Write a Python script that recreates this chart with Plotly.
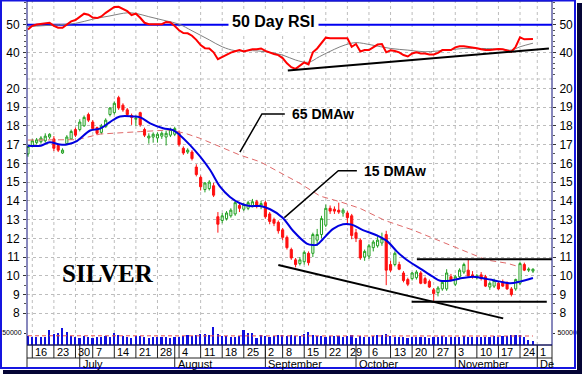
import plotly.graph_objects as go

# ---------------- data ----------------
opens = [16.50,16.95,17.10,17.15,17.20,17.40,17.30,16.95,16.55,17.05,17.30,17.80,17.80,18.00,18.60,18.20,17.90,17.65,17.95,18.60,
         18.70,19.50,19.10,18.85,18.55,18.35,18.70,17.80,17.35,17.40,17.35,17.45,17.40,17.50,17.55,17.60,16.80,16.60,16.60,15.80,
         15.25,14.60,14.65,14.80,13.15,12.95,13.05,13.20,13.30,13.75,13.55,13.60,13.75,13.95,13.70,13.90,13.30,13.00,12.85,12.45,
         12.05,11.40,10.85,10.65,10.75,11.20,11.20,11.90,12.20,12.70,13.60,13.55,13.50,13.35,13.35,13.20,12.30,11.90,11.00,11.05,
         11.50,11.60,11.75,12.20,10.60,10.60,10.60,10.15,9.80,9.85,9.90,10.15,9.85,9.70,9.25,9.10,9.30,9.30,9.95,9.55,
         9.95,10.20,10.30,10.05,9.90,10.05,9.95,9.40,9.45,9.60,9.65,9.60,9.30,9.30,9.60,10.60,10.30,10.25]
highs = [16.95,17.30,17.35,17.45,17.60,17.60,17.45,17.05,16.80,17.50,17.80,17.90,18.35,18.55,18.70,18.30,17.95,18.10,18.40,19.00,
         19.30,19.60,19.20,18.95,18.65,18.55,18.75,17.90,17.60,17.65,17.65,17.70,17.75,17.90,17.95,17.75,16.90,16.80,16.70,15.95,
         15.35,15.00,15.10,14.95,13.40,13.35,13.45,13.60,14.00,13.90,13.90,14.00,14.10,14.05,14.00,14.00,13.40,13.10,12.95,12.55,
         12.15,11.50,10.95,11.00,11.35,11.30,12.30,12.50,13.20,13.80,13.75,13.70,13.90,13.60,13.45,13.30,12.50,12.00,11.40,11.70,
         11.90,12.10,12.30,12.40,10.80,11.30,10.75,10.25,9.90,10.20,10.30,10.25,9.95,9.80,9.35,9.45,9.75,10.35,10.10,10.05,
         10.40,10.70,10.90,10.25,10.10,10.20,10.05,9.70,9.85,9.70,9.80,9.70,9.40,9.85,10.75,10.70,10.45,10.40]
lows = [16.35,16.85,17.00,17.05,17.10,17.30,16.65,16.60,16.50,17.00,17.25,17.40,17.70,17.95,18.20,17.75,17.50,17.55,17.90,18.50,
        18.60,18.85,18.75,18.50,18.05,18.00,17.95,17.40,17.05,17.10,17.10,17.30,16.95,17.40,17.45,16.90,16.45,16.50,16.15,15.30,
        14.55,14.45,14.55,14.20,12.30,12.80,12.95,13.10,13.20,13.40,13.45,13.50,13.65,13.60,13.55,13.05,12.75,12.65,12.25,11.90,
        11.40,10.85,10.45,10.55,10.60,10.55,11.00,11.60,12.00,12.60,13.30,13.30,13.30,13.15,12.70,11.95,11.80,10.85,10.80,10.90,
        11.30,11.50,11.60,9.50,10.20,10.50,10.30,9.65,9.45,9.75,9.80,9.55,9.55,9.35,8.60,8.90,9.20,9.20,9.70,9.45,
        9.85,10.10,9.95,9.85,9.80,9.75,9.40,9.25,9.35,9.25,9.40,9.25,8.90,9.20,9.50,10.25,10.20,10.15]
closes = [16.90,17.20,17.25,17.35,17.45,17.55,16.80,16.70,16.70,17.40,17.70,17.50,18.20,18.45,18.30,17.85,17.60,18.00,18.30,18.95,
          19.20,18.95,18.85,18.60,18.45,18.40,18.05,17.50,17.45,17.55,17.55,17.60,17.60,17.80,17.85,17.00,16.55,16.70,16.25,15.40,
          14.75,14.95,15.00,14.30,12.75,13.20,13.35,13.50,13.90,13.60,13.80,13.90,13.95,13.75,13.85,13.15,12.90,12.80,12.40,12.05,
          11.50,10.95,10.60,10.85,11.25,10.70,12.20,12.20,13.05,13.60,13.45,13.45,13.40,13.50,13.10,12.15,12.00,10.95,11.30,11.60,
          11.80,11.90,12.00,10.30,10.30,11.20,10.35,9.75,9.55,10.15,10.20,9.60,9.60,9.40,9.05,9.35,9.65,10.15,9.75,9.95,
          10.30,10.60,10.00,9.95,10.00,9.85,9.45,9.60,9.75,9.30,9.45,9.30,9.00,9.80,10.65,10.30,10.35,10.35]
volume = [36000,34000,33000,34000,35000,62000,47000,48000,69000,55000,
          38000,34000,31000,37000,34000,30000,32000,34000,36000,35000,
          52000,42000,37000,34000,30000,36000,37000,33000,30000,33000,
          35000,33000,34000,30000,35000,34000,38000,40000,36000,41000,
          47000,46000,42000,73000,45000,39000,36000,35000,34000,37000,
          62000,48000,50000,31000,42000,39000,35000,37000,41000,40000,
          38000,42000,36000,37000,47000,55000,41000,38000,36000,34000,
          38000,36000,37000,35000,38000,42000,31000,38000,33000,35000,
          36000,42000,41000,45000,36000,35000,32000,34000,31000,32000,
          33000,35000,32000,31000,34000,32000,36000,33000,34000,35000,
          33000,36000,32000,34000,33000,35000,34000,33000,36000,35000,
          37000,36000,40000,43000,41000,33000,22000,18000]
days = list(range(len(closes)))  # trading-day index, 13 Jun 2008 .. 28 Nov 2008

rsi = [48.3,49.6,50.1,50.3,50.7,50.7,49.6,48.9,48.9,49.9,51.2,51.7,53.0,54.0,53.6,52.6,52.4,53.0,54.3,55.5,
       56.4,56.5,55.8,54.9,53.5,54.0,52.5,50.7,50.2,50.2,50.2,50.2,51.0,50.8,49.5,48.0,47.0,46.9,46.0,44.5,
       42.6,41.5,41.4,40.0,37.5,38.4,39.3,39.9,40.4,40.8,40.3,40.7,41.1,41.1,41.4,40.5,39.9,39.4,39.0,37.9,
       36.0,34.6,34.0,35.2,36.3,35.6,40.0,41.4,43.3,45.3,45.1,45.1,45.1,45.1,45.1,42.0,43.0,40.3,40.8,40.8,
       41.8,42.8,43.0,40.0,40.7,40.5,40.0,39.0,38.5,39.6,40.0,39.6,39.6,39.2,39.2,39.8,40.8,40.8,40.8,41.8,
       42.2,42.2,42.0,41.8,41.5,41.1,40.8,40.8,41.0,41.2,41.1,40.7,40.2,42.0,45.4,44.7,44.7,44.8]
rsi_ma_x = [0, 6, 11, 15, 19, 23, 25, 28, 32, 35, 38, 42, 45, 48, 52, 55, 59, 62, 65, 67.5, 71, 73.5, 76, 79.5, 84,
            88, 92, 97, 101, 105, 110, 112, 114, 117]
rsi_ma = [49.3, 49.9, 50.5, 52.0, 53.2, 54.3, 54.1, 52.9, 51.4, 50.2, 47.8, 44.5, 42.0, 40.6, 40.6, 40.2, 39.0, 37.2,
          36.4, 38.4, 41.1, 42.7, 43.5, 42.7, 41.4, 40.8, 40.2, 40.8, 41.4, 41.4, 41.1, 40.8, 42.0, 43.3]

ma15_x = [0, 3, 5, 7.4, 9, 11.4, 14.4, 16.7, 19, 21.3, 24.3, 26, 28.3, 31.3, 33.6, 35.2, 37.5, 39.9, 42.2, 44.5,
          46.8, 49.1, 51.4, 53.8, 56.1, 59, 61.4, 64.6, 66, 67, 68.3, 70.7, 73, 75, 77.6, 80.9, 83.2, 85.5, 87.8,
          90.8, 93.8, 95.5, 97.8, 100.1, 103.1, 104.7, 107, 109.4, 111.7, 114, 117]
ma15 = [16.94, 16.94, 17.12, 17.0, 17.0, 17.2, 17.75, 17.85, 18.2, 18.5, 18.5, 18.45, 18.13, 17.87, 17.77, 17.5,
        16.98, 16.35, 15.64, 14.75, 14.2, 13.87, 13.72, 13.72, 13.55, 13.1, 12.4, 11.72, 11.64, 11.66, 11.95, 12.5,
        12.75, 12.73, 12.44, 12.15, 11.85, 11.29, 10.84, 10.4, 9.95, 9.74, 9.74, 9.86, 9.95, 9.9, 9.8, 9.69, 9.6,
        9.69, 9.88]
ma65_x = [0, 9, 11.4, 16.7, 21.3, 26, 33, 36.4, 39.9, 44.5, 49.1, 53.8, 58.4, 63, 67.7, 72.3, 76.9, 82.7, 89.2,
          93.8, 98.5, 102.4, 106.3, 111, 113.5]
ma65 = [17.24, 17.24, 17.26, 17.56, 17.64, 17.69, 17.78, 17.6, 17.33, 16.89, 16.44, 16.08, 15.5, 14.93, 14.25,
        13.95, 13.6, 12.95, 12.44, 12.0, 11.55, 11.2, 10.84, 10.67, 10.5]
vol_ma_x = [0, 30, 60, 90, 117]
vol_ma = [38500, 38000, 39000, 38000, 37500]

# trend lines (trading-day index, value)
rsi_trend_x, rsi_trend_y = [60.2, 120.7], [33.4, 41.4]
fall_x, fall_y = [58.0, 110.1], [10.58, 7.73]
resist_x, resist_y = [90.1, 121.4], [10.88, 10.88]
support_x, support_y = [88.9, 120.2], [8.62, 8.62]

week_idx = [1, 6, 11, 15, 20, 25, 30, 35, 40, 45, 50, 55, 59, 64, 69, 74, 79, 84, 89, 94, 99, 104, 109, 114, 118]
week_lbl = ['16', '23', '30', '7', '14', '21', '28', '4', '11', '18', '25', '2', '8', '15', '22', '29', '6', '13',
            '20', '27', '3', '10', '17', '24', '1']
month_idx = [12, 34, 55, 76, 99, 118]
month_lbl = ['July', 'August', 'September', 'October', 'November', 'De']

price_ticks = [8, 9, 10, 11, 12, 13, 14, 15, 16, 17, 18, 19, 20]
rsi_ticks = [40, 50]
vol_ticks = [50000]

# ---------------- layout constants (pixels) ----------------
W, H = 582, 374
L, R, T, B = 27, 552, 1, 345
X_RANGE = [-0.23, 121.41]


def pxx(p):
    return (p - L) / (R - L)


def pxy(p):
    return (B - p) / (B - T)


ARIAL = "Liberation Sans, Arial, sans-serif"
GRID = "#BDBDBD"

fig = go.Figure()

fig.add_trace(go.Candlestick(
    x=days, open=opens, high=highs, low=lows, close=closes, yaxis="y",
    increasing=dict(line=dict(color="#22A022", width=1), fillcolor="#FFFFFF"),
    decreasing=dict(line=dict(color="#FF1010", width=1), fillcolor="#FF1010"),
    whiskerwidth=0, showlegend=False, hoverinfo="skip"))
fig.add_trace(go.Scatter(x=ma65_x, y=ma65, yaxis="y", mode="lines",
                         line=dict(color="#E06A6A", width=1, dash="6px,4px"), showlegend=False))
fig.add_trace(go.Scatter(x=ma15_x, y=ma15, yaxis="y", mode="lines", line_shape="spline",
                         line=dict(color="#0000E0", width=2), showlegend=False))
for tx, ty in [(fall_x, fall_y), (resist_x, resist_y), (support_x, support_y)]:
    fig.add_trace(go.Scatter(x=tx, y=ty, yaxis="y", mode="lines",
                             line=dict(color="black", width=2), showlegend=False, cliponaxis=False))
fig.add_trace(go.Scatter(x=[None], y=[None], yaxis="y2", showlegend=False))

# RSI panel
fig.add_trace(go.Scatter(x=[X_RANGE[0], X_RANGE[1]], y=[50, 50], yaxis="y3", mode="lines",
                         line=dict(color="#0000F0", width=2), showlegend=False))
fig.add_trace(go.Scatter(x=rsi_ma_x, y=rsi_ma, yaxis="y3", mode="lines", line_shape="spline",
                         line=dict(color="#808080", width=1), showlegend=False))
fig.add_trace(go.Scatter(x=days, y=rsi, yaxis="y3", mode="lines",
                         line=dict(color="#FF0000", width=2), showlegend=False))
fig.add_trace(go.Scatter(x=rsi_trend_x, y=rsi_trend_y, yaxis="y3", mode="lines",
                         line=dict(color="black", width=2), showlegend=False))
fig.add_trace(go.Scatter(x=[None], y=[None], yaxis="y4", showlegend=False))

# Volume panel
fig.add_trace(go.Bar(x=days, y=volume, yaxis="y5", width=0.38, marker=dict(color="#1010E0", line=dict(width=0)),
                     showlegend=False))
fig.add_trace(go.Scatter(x=vol_ma_x, y=vol_ma, yaxis="y5", mode="lines",
                         line=dict(color="#E05050", width=1, dash="4px,3px"), showlegend=False))
fig.add_trace(go.Scatter(x=[None], y=[None], yaxis="y6", showlegend=False))

dom_vol = [0, pxy(321)]
dom_price = [pxy(321), pxy(79)]
dom_rsi = [pxy(79), 1]

tickfont = dict(family=ARIAL, size=12, color="black")
common = dict(showline=False, zeroline=False, ticks="outside", ticklen=3, tickcolor="#333333",
              tickfont=tickfont, fixedrange=True, ticklabelstandoff=1)
price_axis = dict(range=[7.589, 20.496], tickvals=price_ticks,
                  minor=dict(dtick=0.5, ticklen=2, ticks="outside", tickcolor="#555555", showgrid=False))
rsi_axis = dict(range=[30.33, 58.59], tickvals=rsi_ticks,
                minor=dict(dtick=2, ticklen=2, ticks="outside", tickcolor="#555555", showgrid=False))
vol_axis = dict(range=[0, 100000], tickvals=vol_ticks, ticktext=["50000"], tickfont=dict(family=ARIAL, size=7, color="black"),
                ticklen=2)

fig.update_layout(
    width=W, height=H, margin=dict(l=L, r=W - R, t=T, b=H - B, autoexpand=False),
    paper_bgcolor="white", plot_bgcolor="white", bargap=0,
    xaxis=dict(range=X_RANGE, showticklabels=False, showgrid=False, zeroline=False, showline=False,
               ticks="", fixedrange=True, rangeslider=dict(visible=False), anchor="y5"),
    yaxis=dict(domain=dom_price, anchor="x", side="left", showgrid=True, gridcolor=GRID, griddash="dot",
               **common, **price_axis),
    yaxis2=dict(domain=dom_price, anchor="x", overlaying="y", side="right", showgrid=False,
                **common, **price_axis),
    yaxis3=dict(domain=dom_rsi, anchor="x", side="left", showgrid=True, gridcolor=GRID, griddash="dot",
                **common, **rsi_axis),
    yaxis4=dict(domain=dom_rsi, anchor="x", overlaying="y3", side="right", showgrid=False,
                **common, **rsi_axis),
    yaxis5=dict(domain=dom_vol, anchor="x", side="left", showgrid=False,
                **{k: v for k, v in common.items() if k not in ("tickfont", "ticklen")}, **vol_axis),
    yaxis6=dict(domain=dom_vol, anchor="x", overlaying="y5", side="right", showgrid=False,
                **{k: v for k, v in common.items() if k not in ("tickfont", "ticklen")}, **vol_axis),
)

shapes = []
# vertical dotted grid at week starts
for wi in week_idx:
    shapes.append(dict(type="line", xref="x", yref="paper", x0=wi, x1=wi, y0=0, y1=1,
                       line=dict(color=GRID, width=1, dash="dot"), layer="below"))
# horizontal grid in RSI panel lower boundary
shapes.append(dict(type="line", xref="paper", yref="paper", x0=0, x1=1, y0=pxy(79), y1=pxy(79),
                   line=dict(color=GRID, width=1, dash="dot"), layer="below"))
# date box
row_mid = pxy(358)
row_bot = pxy(369)
shapes.append(dict(type="line", xref="paper", yref="paper", x0=0, x1=1, y0=0, y1=0, line=dict(color="#222222", width=1)))
shapes.append(dict(type="line", xref="paper", yref="paper", x0=0, x1=1, y0=row_mid, y1=row_mid,
                   line=dict(color="#222222", width=1)))
for wi in week_idx:
    shapes.append(dict(type="line", xref="x", yref="paper", x0=wi, x1=wi, y0=0, y1=row_mid,
                       line=dict(color="#222222", width=1)))
for mi in month_idx:
    shapes.append(dict(type="line", xref="x", yref="paper", x0=mi, x1=mi, y0=0, y1=row_bot,
                       line=dict(color="#222222", width=1)))
shapes.append(dict(type="line", xref="paper", yref="paper", x0=0, x1=0, y0=0, y1=row_bot, line=dict(color="#222222", width=1)))
shapes.append(dict(type="line", xref="paper", yref="paper", x0=1, x1=1, y0=0, y1=row_bot, line=dict(color="#222222", width=1)))
# plot frame
shapes.append(dict(type="rect", xref="paper", yref="paper", x0=0, x1=1, y0=0, y1=1,
                   line=dict(color="#10107A", width=1)))
# outer border + shadow
shapes.append(dict(type="rect", xref="paper", yref="paper", x0=pxx(1), x1=pxx(575), y0=pxy(368), y1=pxy(0.5),
                   line=dict(color="#1515E0", width=2)))
shapes.append(dict(type="rect", xref="paper", yref="paper", x0=pxx(577), x1=pxx(582), y0=pxy(374), y1=pxy(3),
                   line=dict(width=0), fillcolor="#050535"))
shapes.append(dict(type="rect", xref="paper", yref="paper", x0=pxx(3), x1=pxx(582), y0=pxy(374), y1=pxy(370),
                   line=dict(width=0), fillcolor="#050535"))
# callout leaders
shapes.append(dict(type="path", xref="x", yref="y", path="M 49.1,16.6 L 54.2,18.63 L 59.5,18.63",
                   line=dict(color="black", width=1.5)))
shapes.append(dict(type="path", xref="x", yref="y", path="M 59.4,13.1 L 71.9,15.6 L 76.2,15.6",
                   line=dict(color="black", width=1.5)))
fig.update_layout(shapes=shapes)

ann = []
for wi, wl in zip(week_idx, week_lbl):
    ann.append(dict(x=wi, y=pxy(351.5), xref="x", yref="paper", text=wl, showarrow=False, xanchor="left",
                    yanchor="middle", xshift=1, font=dict(family=ARIAL, size=11, color="black")))
for mi, ml in zip(month_idx, month_lbl):
    ann.append(dict(x=mi, y=pxy(364), xref="x", yref="paper", text=ml, showarrow=False, xanchor="left",
                    yanchor="middle", xshift=1, font=dict(family=ARIAL, size=11, color="black")))
ann.append(dict(x=56.8, y=51.0, xref="x", yref="y3", text="<b>50 Day RSI</b>", showarrow=False,
                font=dict(family=ARIAL, size=16, color="black"), bgcolor="white", borderpad=3,
                xanchor="center", yanchor="middle"))
ann.append(dict(x=60.7, y=18.63, xref="x", yref="y", text="<b>65 DMAw</b>", showarrow=False, xanchor="left",
                yanchor="middle", font=dict(family=ARIAL, size=14, color="black")))
ann.append(dict(x=77.4, y=15.6, xref="x", yref="y", text="<b>15 DMAw</b>", showarrow=False, xanchor="left",
                yanchor="middle", font=dict(family=ARIAL, size=14, color="black")))
ann.append(dict(x=18.5, y=10.1, xref="x", yref="y", text="<b>SILVER</b>", showarrow=False, xanchor="center",
                yanchor="middle", font=dict(family="Liberation Serif, Times New Roman, serif", size=25, color="black")))
fig.update_layout(annotations=ann)

fig.write_html("out.html", config={"displayModeBar": False},
               post_script="document.body.style.margin='0';document.body.style.overflow='hidden';")
